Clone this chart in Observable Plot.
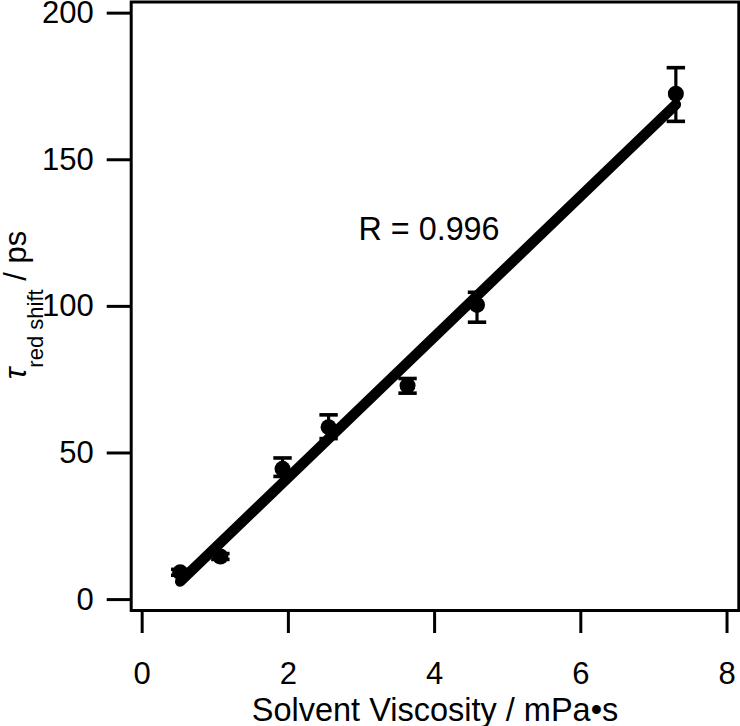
<!DOCTYPE html>
<html>
<head>
<meta charset="utf-8">
<script src="https://cdn.jsdelivr.net/npm/d3@7"></script>
<script src="https://cdn.jsdelivr.net/npm/@observablehq/plot@0.6"></script>
<style>
  html, body { margin: 0; padding: 0; background: white; }
</style>
</head>
<body>
<div id="chart"></div>
<script>
// Data
const viscosity = [0.52, 1.07, 1.92, 2.55, 3.63, 4.58, 7.30];   // mPa·s
const tauRed    = [9.3, 14.7, 44.6, 58.8, 73.0, 100.5, 172.5]; // ps
const errLow    = [8.3, 13.7, 42.0, 54.9, 70.4, 94.6, 163.1];
const errHigh   = [10.3, 15.7, 48.3, 63.0, 75.4, 104.8, 181.4];
const xTicks = [0, 2, 4, 6, 8];
const yTicks = [0, 50, 100, 150, 200];
const rText = "R = 0.996";
const xLabel = "Solvent Viscosity / mPa•s";

const data = viscosity.map((v, i) => ({x: v, y: tauRed[i], lo: errLow[i], hi: errHigh[i]}));

const capSymbol = {
  draw(context) {
    context.moveTo(-9.2, 0);
    context.lineTo(9.2, 0);
  }
};

const font = "'Liberation Sans', Arial, Helvetica, sans-serif";

const chart = Plot.plot({
  width: 740,
  height: 726,
  marginLeft: 130.7,
  marginRight: 1.7,
  marginTop: 1.5,
  marginBottom: 116,
  style: {fontFamily: font, fontSize: "31px", background: "white", color: "black", overflow: "visible"},
  x: {domain: [-0.15, 8.161]},
  y: {domain: [-3.72, 203.8]},
  marks: [
    Plot.axisX(xTicks, {tickSize: 23, tickPadding: 28, strokeWidth: 3, fontSize: 31, label: null}),
    Plot.axisY(yTicks, {tickSize: 24, tickPadding: 13.4, strokeWidth: 3, fontSize: 31, label: null}),
    Plot.text([xLabel], {frameAnchor: "bottom", dy: 87, lineAnchor: "top", text: d => d, fontSize: 32.5, fill: "black"}),
    Plot.ruleX(data, {x: "x", y1: "lo", y2: "hi", stroke: "black", strokeWidth: 3.2}),
    Plot.dot(data, {x: "x", y: "lo", symbol: capSymbol, stroke: "black", strokeWidth: 3.6, r: 5}),
    Plot.dot(data, {x: "x", y: "hi", symbol: capSymbol, stroke: "black", strokeWidth: 3.6, r: 5}),
    Plot.dot(data, {x: "x", y: "y", r: 8, fill: "black", stroke: "none"}),
    Plot.linearRegressionY(data, {x: "x", y: "y", ci: 0, stroke: "black", strokeWidth: 10.5, strokeLinecap: "round"}),
    Plot.text([rText], {x: 2.96, y: 126.2, text: d => d, textAnchor: "start", fontSize: 32.3, fill: "black"}),
    Plot.frame({stroke: "black", strokeWidth: 3})
  ]
});

// y-axis label with a subscript (real text, tspans)
const svg = d3.select(chart);
const yl = svg.append("text")
  .attr("transform", "translate(26,305) rotate(-90)")
  .attr("text-anchor", "middle")
  .attr("font-family", font)
  .attr("font-size", 31)
  .attr("fill", "black");
yl.append("tspan").attr("font-style", "italic").text("τ");
yl.append("tspan").attr("font-size", 22).attr("dy", 17).text("red shift");
yl.append("tspan").attr("dy", -17).text(" / ps");

document.getElementById("chart").appendChild(chart);
</script>
</body>
</html>
